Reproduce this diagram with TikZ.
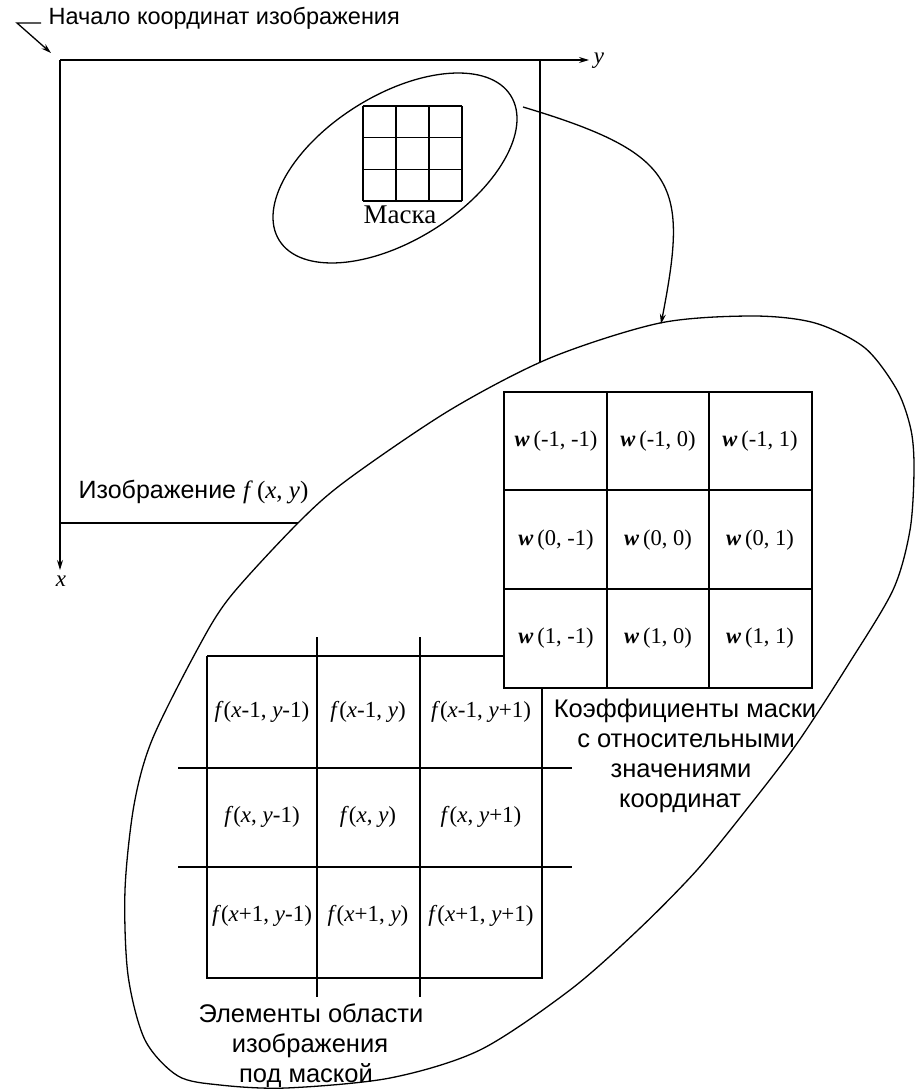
\documentclass[tikz,border=0pt]{standalone}
\usepackage{fontspec}
\setmainfont{Liberation Serif}
\setsansfont{Liberation Sans}
\usetikzlibrary{arrows.meta}
\newcommand{\iv}[1]{\textit{#1}}
\newcommand{\wv}{\textbf{\textit{w}}\,}
\begin{document}
\begin{tikzpicture}[x=1pt,y=-1pt,
  line width=1.3pt,
  tip/.style={-{Stealth[length=10pt,width=6pt]}},
  cellw/.style={font=\fontsize{22.5}{26}\selectfont, inner sep=0pt},
  cellf/.style={font=\fontsize{23}{26}\selectfont, inner sep=0pt},
  lab/.style={font=\sffamily\fontsize{25.5}{30}\selectfont, inner sep=0pt, anchor=base},
]
\useasboundingbox (0,0) rectangle (914,1091);

% image frame and axes
\coordinate (O) at (60,60);
\coordinate (Yend) at (589,60);
\coordinate (Xend) at (60,570);
\coordinate (TR) at (540,60);
\coordinate (TRb) at (540,400);
\coordinate (BL) at (60,523);
\coordinate (BLr) at (330,523);
\draw (TR) -- (TRb);
\draw (BL) -- (BLr);
\draw[tip] (O) -- (Yend);
\draw[tip] (O) -- (Xend);
\node[anchor=base, inner sep=0pt, font=\fontsize{23}{26}\selectfont] (ylab) at (599,64) {\iv{y}};
\node[anchor=base, inner sep=0pt, font=\fontsize{23}{26}\selectfont] (xlab) at (61,586) {\iv{x}};

% header
\node[anchor=base west, inner sep=0pt, font=\sffamily\fontsize{23.5}{28}\selectfont] (hdr) at (48,25) {Начало координат изображения};
\coordinate (l1) at (41,23);
\coordinate (l2) at (17,23);
\coordinate (ltip) at (51,53);
\draw[tip] (l1) -- (l2) -- (ltip);

% image label
\node[anchor=base west, inner sep=0pt, font=\sffamily\fontsize{25}{28}\selectfont] (imgl) at (78,498) {Изображение {\rmfamily\iv{f}\,(\iv{x}, \iv{y})}};

% small ellipse with mask
\draw[rotate around={32:(395,168)}] (395,168) ellipse (136.5 and 72.6);
\foreach \i in {0,1,2,3} {
  \draw (363+33*\i,106) -- (363+33*\i,201);
  \draw (363,106+31.667*\i) -- (462,106+31.667*\i);
}
\node[anchor=base, inner sep=0pt, font=\fontsize{27}{30}\selectfont] (mask) at (400,224) {Маска};

% big region
\draw[fill=white] plot[smooth cycle] coordinates {
 (753,316) (815,323) (865,348) (897,390) (911,430) (914,470) (910,530)
 (893,590) (848,665) (798,742) (750,805) (697,870) (638,930) (570,990)
 (480,1050) (390,1078) (286,1088) (220,1085) (178,1076) (145,1040)
 (128,975) (125,890) (134,805) (152,740) (197,650) (230,597) (298,523)
 (347,480) (450,410) (550,358) (660,323)};

% curved arrow
\coordinate (arrS) at (523,107);
\coordinate (arrE) at (661,324);
\draw[tip] (arrS) .. controls (680,154) and (688,185) .. (arrE);

% image region grid
\draw (207,656) -- (504,656);
\draw (207,656) -- (207,978) -- (542,978) -- (542,688);
\draw (317,637) -- (317,997);
\draw (420,637) -- (420,997);
\draw (178,768) -- (572,768);
\draw (178,867) -- (572,867);

\node[cellf] (f11) at (262,712) {\iv{f}(\iv{x}-1, \iv{y}-1)};
\node[cellf] (f12) at (368,712) {\iv{f}(\iv{x}-1, \iv{y})};
\node[cellf] (f13) at (481,712) {\iv{f}(\iv{x}-1, \iv{y}+1)};
\node[cellf] (f21) at (262,817) {\iv{f}(\iv{x}, \iv{y}-1)};
\node[cellf] (f22) at (368,817) {\iv{f}(\iv{x}, \iv{y})};
\node[cellf] (f23) at (481,817) {\iv{f}(\iv{x}, \iv{y}+1)};
\node[cellf] (f31) at (262,916) {\iv{f}(\iv{x}+1, \iv{y}-1)};
\node[cellf] (f32) at (368,916) {\iv{f}(\iv{x}+1, \iv{y})};
\node[cellf] (f33) at (481,916) {\iv{f}(\iv{x}+1, \iv{y}+1)};

% mask coefficients grid
\draw[fill=white] (504,392) rectangle (812,688);
\draw (607,392) -- (607,688);
\draw (709,392) -- (709,688);
\draw (504,490) -- (812,490);
\draw (504,589) -- (812,589);

\node[cellw] (w11) at (556,441) {\wv(-1, -1)};
\node[cellw] (w12) at (658,441) {\wv(-1, 0)};
\node[cellw] (w13) at (760,441) {\wv(-1, 1)};
\node[cellw] (w21) at (556,540) {\wv(0, -1)};
\node[cellw] (w22) at (658,540) {\wv(0, 0)};
\node[cellw] (w23) at (760,540) {\wv(0, 1)};
\node[cellw] (w31) at (556,638) {\wv(1, -1)};
\node[cellw] (w32) at (658,638) {\wv(1, 0)};
\node[cellw] (w33) at (760,638) {\wv(1, 1)};

% labels
\node[lab] (k1) at (685,717) {Коэффициенты маски};
\node[lab] (k2) at (686,747) {с относительными};
\node[lab] (k3) at (681,777) {значениями};
\node[lab] (k4) at (680,807) {координат};

\node[lab] (e1) at (311,1022) {Элементы области};
\node[lab] (e2) at (310,1052) {изображения};
\node[lab] (e3) at (306,1082) {под маской};
\end{tikzpicture}
\end{document}
